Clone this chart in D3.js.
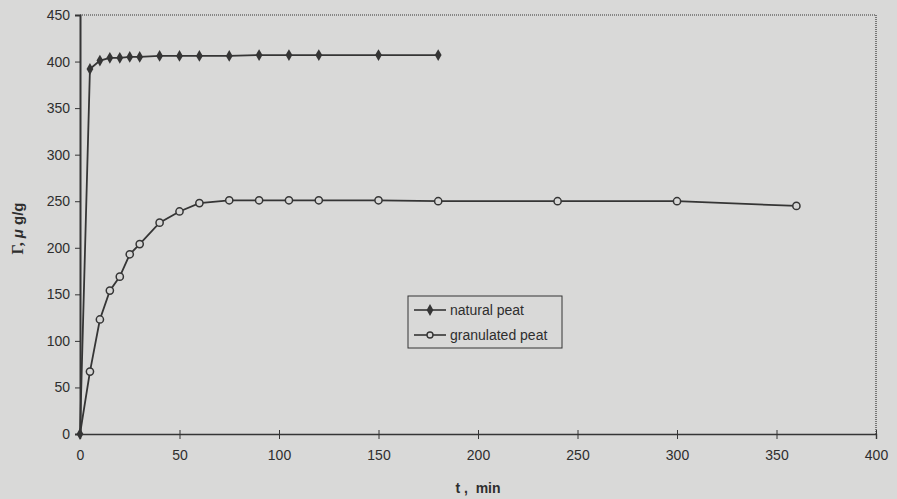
<!DOCTYPE html>
<html>
<head>
<meta charset="utf-8">
<script src="https://cdn.jsdelivr.net/npm/d3@7"></script>
<style>
  html, body { margin: 0; padding: 0; background: #d9d9d8; }
  svg { display: block; }
</style>
</head>
<body>
<div id="chart"></div>
<script>
// time points (min) and uptake (ug/g)
const naturalTime = [0, 5, 10, 15, 20, 25, 30, 40, 50, 60, 75, 90, 105, 120, 150, 180];
const naturalUptake = [0, 392, 401, 404, 404, 405, 405, 406, 406, 406, 406, 407, 407, 407, 407, 407];

const granTime = [0, 5, 10, 15, 20, 25, 30, 40, 50, 60, 75, 90, 105, 120, 150, 180, 240, 300, 360];
const granUptake = [0, 67, 123, 154, 169, 193, 204, 227, 239, 248, 251, 251, 251, 251, 251, 250, 250, 250, 245];

const xTicks = [0, 50, 100, 150, 200, 250, 300, 350, 400];
const yTicks = [0, 50, 100, 150, 200, 250, 300, 350, 400, 450];
const seriesNames = ["natural peat", "granulated peat"];

const width = 897, height = 499;
const margin = { top: 15, right: 21, bottom: 65, left: 80 };
const ink = "#353535";
const textInk = "#2e2e2e";
const sans = "'Liberation Sans', Arial, sans-serif";

const svg = d3.select("#chart").append("svg")
  .attr("width", width)
  .attr("height", height);

svg.append("rect").attr("width", width).attr("height", height).attr("fill", "#d9d9d8");

const x = d3.scaleLinear().domain([0, 400]).range([margin.left, width - margin.right]);
const y = d3.scaleLinear().domain([0, 450]).range([height - margin.bottom, margin.top]);

// frame: dotted top and right edges
svg.append("line")
  .attr("x1", x(0)).attr("x2", x(400)).attr("y1", y(450)).attr("y2", y(450))
  .attr("stroke", ink).attr("stroke-width", 1.2).attr("stroke-dasharray", "1,1");
svg.append("line")
  .attr("x1", x(400)).attr("x2", x(400)).attr("y1", y(450)).attr("y2", y(0))
  .attr("stroke", ink).attr("stroke-width", 1.2).attr("stroke-dasharray", "1,1");

// x axis, ticks crossing the axis line
const xAxis = svg.append("g")
  .attr("transform", `translate(0,${y(0)})`)
  .call(d3.axisBottom(x).tickValues(xTicks).tickSize(5).tickPadding(11));
xAxis.select(".domain").attr("stroke", ink).attr("stroke-width", 1.4);
xAxis.selectAll(".tick line").attr("stroke", ink).attr("y1", -4);
xAxis.selectAll("text")
  .attr("font-family", sans)
  .attr("font-size", 14).attr("fill", textInk);

const yAxis = svg.append("g")
  .attr("transform", `translate(${x(0)},0)`)
  .call(d3.axisLeft(y).tickValues(yTicks).tickSize(5).tickPadding(5));
yAxis.select(".domain").attr("stroke", ink).attr("stroke-width", 2);
yAxis.selectAll(".tick line").attr("stroke", ink);
yAxis.selectAll("text")
  .attr("font-family", sans)
  .attr("font-size", 14).attr("fill", textInk);

// axis titles
svg.append("text")
  .attr("x", (x(0) + x(400)) / 2)
  .attr("y", 493)
  .attr("text-anchor", "middle")
  .attr("font-family", sans)
  .attr("font-size", 14).attr("font-weight", "bold")
  .attr("fill", textInk)
  .attr("xml:space", "preserve")
  .text("t ,  min");

svg.append("text")
  .attr("transform", `translate(23,${(y(0) + y(450)) / 2 + 4}) rotate(-90)`)
  .attr("text-anchor", "middle")
  .attr("font-family", "'Liberation Serif', serif")
  .attr("font-size", 16).attr("font-weight", "bold")
  .attr("fill", textInk)
  .html("\u0393,  <tspan font-style='italic' font-family='Liberation Sans, sans-serif' font-size='15'>\u03bc</tspan><tspan font-family='Liberation Sans, sans-serif' font-size='15'> g/g</tspan>");

const line = d3.line().x(d => x(d[0])).y(d => y(d[1]));
const naturalPts = d3.zip(naturalTime, naturalUptake);
const granPts = d3.zip(granTime, granUptake);

svg.append("path").datum(naturalPts)
  .attr("d", line).attr("fill", "none").attr("stroke", ink).attr("stroke-width", 1.8);
svg.append("path").datum(granPts)
  .attr("d", line).attr("fill", "none").attr("stroke", ink).attr("stroke-width", 1.8);

const diamond = d3.symbol().type(d3.symbolDiamond).size(40);

svg.append("g").selectAll("path")
  .data(naturalPts)
  .join("path")
  .attr("transform", d => `translate(${x(d[0])},${y(d[1])})`)
  .attr("d", diamond)
  .attr("fill", ink);

svg.append("g").selectAll("circle")
  .data(granPts.slice(1))
  .join("circle")
  .attr("cx", d => x(d[0])).attr("cy", d => y(d[1]))
  .attr("r", 3.6)
  .attr("fill", "#d6d6d5").attr("stroke", ink).attr("stroke-width", 1.5);

// legend
const legend = svg.append("g").attr("transform", "translate(408,296)");
legend.append("rect")
  .attr("width", 154).attr("height", 52)
  .attr("fill", "none").attr("stroke", ink).attr("stroke-width", 1);

const items = legend.selectAll("g.item")
  .data(seriesNames)
  .join("g")
  .attr("class", "item")
  .attr("transform", (d, i) => `translate(0,${14 + i * 25})`);
items.append("line")
  .attr("x1", 6).attr("x2", 38)
  .attr("stroke", ink).attr("stroke-width", 1.6);
items.filter((d, i) => i === 0).append("path")
  .attr("transform", "translate(22,0)")
  .attr("d", diamond).attr("fill", ink);
items.filter((d, i) => i === 1).append("circle")
  .attr("cx", 22).attr("r", 3)
  .attr("fill", "#d6d6d5").attr("stroke", ink).attr("stroke-width", 1.4);
items.append("text")
  .attr("x", 42).attr("dy", "0.35em")
  .attr("font-family", sans)
  .attr("font-size", 14).attr("fill", textInk)
  .text(d => d);
</script>
</body>
</html>
